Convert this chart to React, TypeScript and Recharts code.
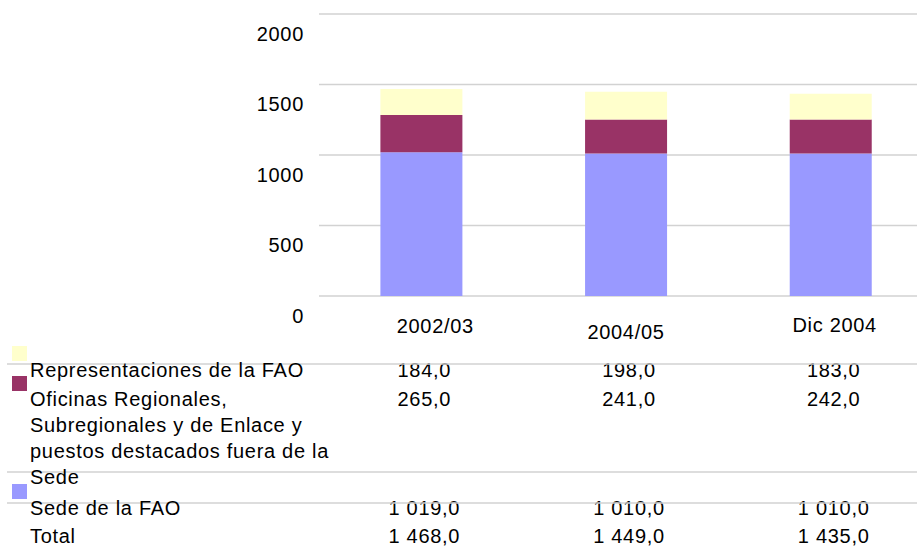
import React from 'react';
import { BarChart, Bar, XAxis, YAxis, CartesianGrid } from 'recharts';

// --- data ---
const periods = ['2002/03', '2004/05', 'Dic 2004'];
const sede = [1019, 1010, 1010];
const oficinas = [265, 241, 242];
const representaciones = [184, 198, 183];
const yTicks = [0, 500, 1000, 1500, 2000];

const rows = periods.map((p, i) => ({
  period: p,
  sede: sede[i],
  oficinas: oficinas[i],
  representaciones: representaciones[i],
}));

const FONT = '"Liberation Sans", Arial, Helvetica, sans-serif';
const GRID = '#d2d2d2';
const SPACING = 0.7;

// small per-label nudges so category names sit as in the original export
const labelNudge = [
  { dx: 14, dy: 0 },
  { dx: 0, dy: 6 },
  { dx: 4, dy: -1.5 },
];

const fmt = (n: number) => {
  const [int, dec] = n.toFixed(1).split('.');
  return int.replace(/\B(?=(\d{3})+(?!\d))/g, ' ') + ',' + dec;
};

const YTick = (props: any) => {
  const { x, y, payload } = props;
  return (
    <text
      x={x - 15}
      y={y + 26.5}
      textAnchor="end"
      fontSize={20}
      fontFamily={FONT}
      letterSpacing={SPACING}
      fill="#000"
    >
      {payload.value}
    </text>
  );
};

// x tick draws the category name and the table column under it
const TableTick = (props: any) => {
  const { x, y, payload } = props;
  const i = payload.index;
  const total = sede[i] + oficinas[i] + representaciones[i];
  const n = labelNudge[i] || { dx: 0, dy: 0 };
  const cx = x + 3;
  return (
    <g fontSize={20} fontFamily={FONT} letterSpacing={SPACING} fill="#000">
      <text x={x + n.dx} y={y + 37 + n.dy} textAnchor="middle">{payload.value}</text>
      <text x={cx} y={y + 81} textAnchor="middle">{fmt(representaciones[i])}</text>
      <text x={cx} y={y + 110} textAnchor="middle">{fmt(oficinas[i])}</text>
      <text x={cx} y={y + 219} textAnchor="middle">{fmt(sede[i])}</text>
      <text x={cx} y={y + 247} textAnchor="middle">{fmt(total)}</text>
    </g>
  );
};

const TableLegend = () => (
  <svg
    width={917}
    height={546}
    style={{ position: 'absolute', left: 0, top: 0, pointerEvents: 'none' }}
  >
    <line x1={7} x2={917} y1={364} y2={364} stroke={GRID} strokeWidth={1.5} />
    <line x1={7} x2={917} y1={472} y2={472} stroke={GRID} strokeWidth={1.5} />
    <line x1={7} x2={917} y1={503} y2={503} stroke={GRID} strokeWidth={1.5} />
    <rect x={12} y={346} width={15} height={15} fill="#ffffcc" />
    <rect x={12} y={376} width={15} height={15} fill="#993366" />
    <rect x={12} y={484} width={15} height={15} fill="#9999ff" />
    <g fontSize={20} fontFamily={FONT} letterSpacing={SPACING} fill="#000">
      <text x={30} y={377}>Representaciones de la FAO</text>
      <text x={30} y={406}>Oficinas Regionales,</text>
      <text x={30} y={432}>Subregionales y de Enlace y</text>
      <text x={30} y={458}>puestos destacados fuera de la</text>
      <text x={30} y={484}>Sede</text>
      <text x={30} y={515}>Sede de la FAO</text>
      <text x={30} y={543}>Total</text>
    </g>
  </svg>
);

export default function App() {
  return (
    <div
      style={{
        position: 'absolute',
        left: 0,
        top: 0,
        width: 917,
        height: 546,
        overflow: 'hidden',
        background: '#fff',
      }}
    >
      <BarChart
        width={933}
        height={546}
        data={rows}
        margin={{ top: 14, right: 0, bottom: 0, left: 0 }}
        barCategoryGap="30%"
      >
        <CartesianGrid vertical={false} stroke={GRID} strokeWidth={1.5} />
        <XAxis
          dataKey="period"
          height={250}
          axisLine={false}
          tickLine={false}
          tickSize={0}
          tickMargin={0}
          interval={0}
          tick={<TableTick />}
        />
        <YAxis
          width={319}
          domain={[0, 2000]}
          ticks={yTicks}
          axisLine={false}
          tickLine={false}
          tickSize={0}
          tickMargin={0}
          tick={<YTick />}
        />
        <Bar dataKey="sede" stackId="a" fill="#9999ff" isAnimationActive={false} />
        <Bar dataKey="oficinas" stackId="a" fill="#993366" isAnimationActive={false} />
        <Bar dataKey="representaciones" stackId="a" fill="#ffffcc" isAnimationActive={false} />
      </BarChart>
      <TableLegend />
    </div>
  );
}
